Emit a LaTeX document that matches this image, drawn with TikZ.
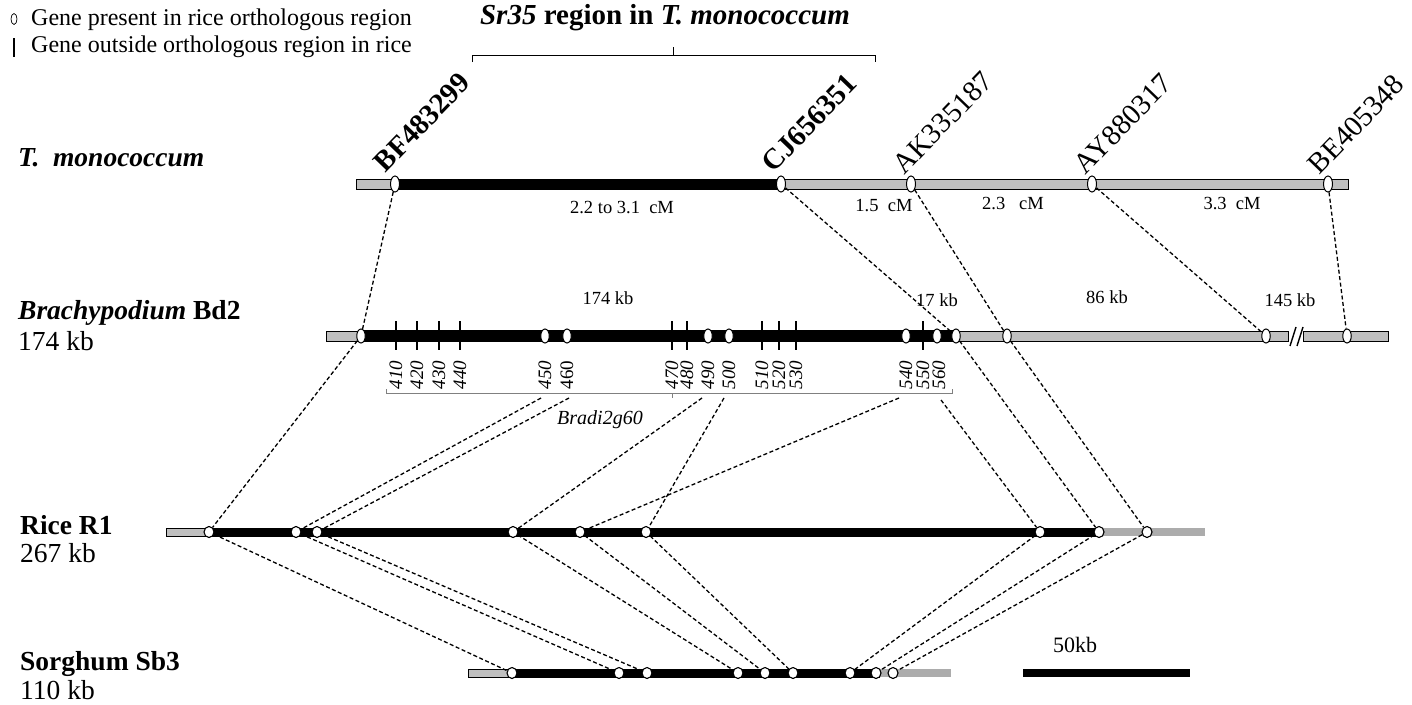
\documentclass[tikz,border=0pt]{standalone}
\usepackage{fontspec}
\setmainfont{Liberation Serif}
\usetikzlibrary{shapes.geometric}
\newcommand\myfs[1]{\fontsize{#1}{#1}\selectfont}
\begin{document}
\begin{tikzpicture}[x=1pt,y=-1pt,
  tmg/.style={ellipse,draw,fill=white,inner sep=0pt,line width=1pt,minimum width=9pt,minimum height=16pt},
  bdg/.style={ellipse,draw,fill=white,inner sep=0pt,line width=1pt,minimum width=8.5pt,minimum height=14pt},
  rcg/.style={ellipse,draw,fill=white,inner sep=0pt,line width=1.1pt,minimum width=10pt,minimum height=11pt},
  conn/.style={line width=1.3pt,dash pattern=on 4pt off 2.5pt},
  graybar/.style={draw=black,fill=gray!50,line width=0.9pt},
  lightbar/.style={fill=gray!65,draw=none},
  blackbar/.style={fill=black,draw=none},
  tickg/.style={line width=2.8pt},
  markl/.style={rotate=46,anchor=south west,inner sep=0pt,font=\myfs{29}},
  dist/.style={font=\myfs{18.5},inner sep=0pt},
  numl/.style={rotate=90,inner sep=0pt,font=\myfs{19}\itshape},
  spl/.style={anchor=west,inner sep=0pt,font=\myfs{27.5}},
]
\useasboundingbox (0,0) rectangle (1412,704);

% legend
\node[ellipse,draw,line width=0.7pt,inner sep=0pt,minimum width=6pt,minimum height=11pt] (lego) at (14,19) {};
\node[anchor=west,inner sep=0pt,font=\myfs{24}] (legt1) at (31,20) {Gene present in rice orthologous region};
\draw[line width=2.6pt] (14,38) coordinate (legb1) -- (14,57) coordinate (legb2);
\node[anchor=west,inner sep=0pt,font=\myfs{24}] (legt2) at (31,47) {Gene outside orthologous region in rice};

% title and brace
\node[inner sep=0pt,font=\myfs{29}\bfseries] (title) at (665,18) {\textit{Sr35} region in \textit{T. monococcum}};
\draw[line width=1pt] (472,62) -- (472,55) -- (875,55) -- (875,62);
\draw[line width=1pt] (673,55) -- (673,47);

% species labels
\node[spl] (sp1) at (18,158) {\bfseries\itshape T.\ \ monococcum};
\node[spl] (sp2) at (18,313) {\bfseries\textit{Brachypodium} Bd2};
\node[spl] (sp2b) at (18,341) {174 kb};
\node[spl] (sp3) at (20,525) {\bfseries Rice R1};
\node[spl] (sp3b) at (20,553) {267 kb};
\node[spl] (sp4) at (20,664) {\bfseries Sorghum Sb3};
\node[spl] (sp4b) at (20,690) {110 kb};

% T. monococcum bar
\draw[graybar] (356,179) rectangle (1348,189);
\fill[blackbar] (395,179) rectangle (781,189);
\node[tmg] (T1) at (395,184) {};
\node[tmg] (T2) at (781,184) {};
\node[tmg] (T3) at (911,184) {};
\node[tmg] (T4) at (1092,184) {};
\node[tmg] (T5) at (1328,184) {};
\node[markl,font=\myfs{29}\bfseries] (mBF) at (386,174) {BF483299};
\node[markl,font=\myfs{29}\bfseries] (mCJ) at (774,174) {CJ656351};
\node[markl] (mAK) at (905,176) {AK335187};
\node[markl] (mAY) at (1086,176) {AY880317};
\node[markl] (mBE) at (1320,176) {BE405348};
\node[dist] (d1) at (622,208) {2.2 to 3.1\ \ cM};
\node[dist] (d2) at (884,206) {1.5\ \ cM};
\node[dist] (d3) at (1013,204) {2.3\ \ \ cM};
\node[dist] (d4) at (1232,204) {3.3\ \ cM};

% Brachypodium bar
\draw[graybar] (326,331) rectangle (1288,341);
\draw[graybar] (1303,331) rectangle (1388,341);
\fill[blackbar] (361,330) rectangle (956,342);
\draw[line width=1.4pt] (1290,346) -- (1296,327);
\draw[line width=1.4pt] (1297,346) -- (1303,327);
\foreach \x in {396,417,439,460,672,687,762,779,796,923}
  \draw[tickg] (\x,321) -- (\x,350);
\node[bdg] (B0) at (361,336) {};
\node[bdg] (B450) at (545,336) {};
\node[bdg] (B460) at (567,336) {};
\node[bdg] (B490) at (708,336) {};
\node[bdg] (B500) at (729,336) {};
\node[bdg] (B540) at (906,336) {};
\node[bdg] (B560) at (937,336) {};
\node[bdg] (Bcj) at (956,336) {};
\node[bdg] (Bak) at (1007,336) {};
\node[bdg] (Bay) at (1266,336) {};
\node[bdg] (Bbe) at (1347,336) {};
\node[dist] (k1) at (608,298) {174 kb};
\node[dist] (k2) at (937,300) {17 kb};
\node[dist] (k3) at (1107,297) {86 kb};
\node[dist] (k4) at (1290,300) {145 kb};
\foreach \x/\n in {396/410,417/420,439/430,460/440,545/450,672/470,687/480,708/490,729/500,762/510,779/520,796/530,906/540,923/550,939/560}
  \node[numl] at (\x,375) {\n};
\node[numl,font=\myfs{19}] (n460) at (567,375) {460};
\draw[gray,line width=0.9pt] (386,389) -- (386,393) -- (952,393) -- (952,389);
\draw[gray,line width=0.9pt] (672,393) -- (672,398);
\node[inner sep=0pt,font=\myfs{20}\itshape] (bradi) at (600,420) {Bradi2g60};
\coordinate (c450) at (541,398);
\coordinate (c460) at (569,398);
\coordinate (c490) at (702,398);
\coordinate (c500) at (724,398);
\coordinate (c540) at (899,398);
\coordinate (c560) at (941,400);

% Rice bar
\draw[graybar] (166,528) rectangle (209,536);
\fill[blackbar] (209,527.5) rectangle (1099,536.5);
\fill[lightbar] (1099,528) rectangle (1205,536);
\node[rcg] (R1) at (209,532) {};
\node[rcg] (R2) at (296,532) {};
\node[rcg] (R3) at (317,532) {};
\node[rcg] (R4) at (513,532) {};
\node[rcg] (R5) at (580,532) {};
\node[rcg] (R6) at (646,532) {};
\node[rcg] (R7) at (1040,532) {};
\node[rcg] (R8) at (1099,532) {};
\node[rcg] (R9) at (1147,532) {};

% Sorghum bar
\draw[graybar] (468,669) rectangle (512,677);
\fill[blackbar] (512,668.5) rectangle (880,677.5);
\fill[lightbar] (880,669) rectangle (951,677);
\node[rcg] (S1) at (512,673) {};
\node[rcg] (S2) at (619,673) {};
\node[rcg] (S3) at (647,673) {};
\node[rcg] (S4) at (738,673) {};
\node[rcg] (S5) at (765,673) {};
\node[rcg] (S6) at (793,673) {};
\node[rcg] (S7) at (850,673) {};
\node[rcg] (S8) at (876,673) {};
\node[rcg] (S9) at (893,673) {};

% scale bar
\fill[blackbar] (1023,669) rectangle (1190,677);
\node[inner sep=0pt,font=\myfs{22}] (sc) at (1075,645) {50kb};

% connectors T -> B
\draw[conn] (T1) -- (B0);
\draw[conn] (T2) -- (Bcj);
\draw[conn] (T3) -- (Bak);
\draw[conn] (T4) -- (Bay);
\draw[conn] (T5) -- (Bbe);
% B -> R
\draw[conn] (B0) -- (R1);
\draw[conn] (c450) -- (R2);
\draw[conn] (c460) -- (R3);
\draw[conn] (c490) -- (R4);
\draw[conn] (c500) -- (R6);
\draw[conn] (c540) -- (R5);
\draw[conn] (c560) -- (R7);
\draw[conn] (Bcj) -- (R8);
\draw[conn] (Bak) -- (R9);
% R -> S
\draw[conn] (R1) -- (S1);
\draw[conn] (R2) -- (S2);
\draw[conn] (R3) -- (S3);
\draw[conn] (R4) -- (S4);
\draw[conn] (R5) -- (S5);
\draw[conn] (R6) -- (S6);
\draw[conn] (R7) -- (S7);
\draw[conn] (R8) -- (S8);
\draw[conn] (R9) -- (S9);
\end{tikzpicture}
\end{document}
